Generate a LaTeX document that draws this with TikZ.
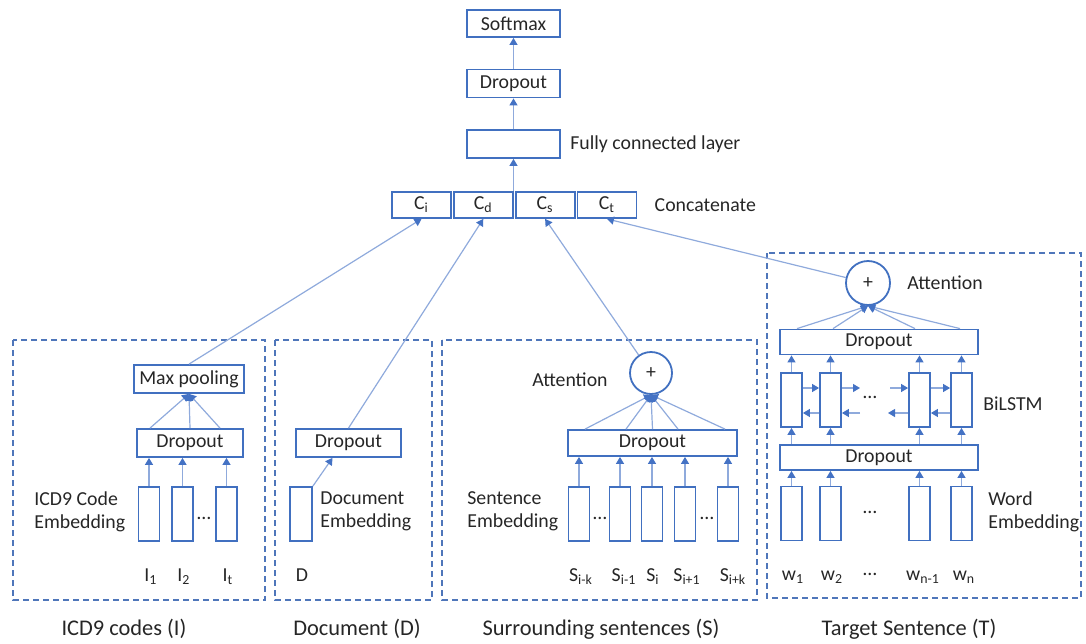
\documentclass[tikz,border=0pt]{standalone}
\usepackage{fontspec}
\setmainfont{Carlito}
\usepackage{xcolor}
\usepackage{tikz}
\usetikzlibrary{arrows.meta,positioning}
\definecolor{boxblue}{HTML}{4170C0}
\definecolor{lineblue}{HTML}{8FAADC}
\definecolor{tipblue}{HTML}{4472C4}
\definecolor{groupblue}{HTML}{4F76BA}
\definecolor{inkgray}{HTML}{262626}

\begin{document}
\begin{tikzpicture}[
    x=0.5pt, y=-0.5pt,
    font=\fontsize{9.9}{11.5}\selectfont,
    text=inkgray,
    layer/.style={draw=boxblue, line width=0.9pt, inner sep=0pt, minimum height=14pt},
    toplayer/.style={layer, minimum width=46.5pt},
    part/.style={layer, minimum width=29.5pt, minimum height=13pt},
    vec/.style={draw=boxblue, line width=0.9pt, inner sep=0pt, minimum width=10.5pt, minimum height=27pt},
    attn/.style={circle, draw=boxblue, line width=0.9pt, inner sep=0pt, minimum size=21pt},
    group/.style={draw=groupblue, line width=0.9pt, dash pattern=on 3pt off 2pt},
    link/.style={draw=lineblue, line width=0.6pt, -{Triangle[length=3.5pt, width=4pt, color=tipblue]}},
    note/.style={align=left, inner sep=0pt},
    caption/.style={font=\fontsize{11.2}{13}\selectfont, inner sep=0pt}
]
\useasboundingbox (0,0) rectangle (1086,643);
% output stack
\node[toplayer, minimum height=13.5pt] (softmax) at (513.5,23.5) {Softmax};
\node[toplayer] (drop0) at (513.5,83.5) {Dropout};
\node[toplayer] (fc) at (513.5,144) {};
\node[note, anchor=west] (fclbl) at (570,144) {Fully connected layer};
\node[part] (ci) at (421.5,205) {C\textsubscript{i}};
\node[part, right=0.5pt of ci] (cd) {C\textsubscript{d}};
\node[part, right=0.5pt of cd] (cs) {C\textsubscript{s}};
\node[part, right=0.5pt of cs] (ct) {C\textsubscript{t}};
\node[note, right=8.5pt of ct] (catlbl) {Concatenate};
\draw[link] (fc.south |- cd.north) -- (fc.south);
\draw[link] (fc.north) -- (drop0.south);
\draw[link] (drop0.north) -- (softmax.south);
% ICD9 codes
\draw[group] (13,340) rectangle (265,600);
\node[layer, minimum width=55pt] (pool) at (189,379) {Max pooling};
\node[layer, minimum width=53pt] (dropI) at (190,443) {Dropout};
\node[vec] (ia) at (149,514) {};
\node[vec] (ib) at (182.5,514) {};
\node[vec] (ic) at (226.5,514) {};
\node (idots) at (204,518) {\dots};
\node[note, anchor=west] (ilbl) at (34,511.5) {ICD9 Code\\Embedding};
\node (ianame) at (151,577) {I\textsubscript{1}};
\node (ibname) at (184,577) {I\textsubscript{2}};
\node (icname) at (228,577) {I\textsubscript{t}};
\node[caption] (icap) at (124,629) {ICD9 codes (I)};
\draw[link] (ia.north) -- (ia.north |- dropI.south);
\draw[link] (ib.north) -- (ib.north |- dropI.south);
\draw[link] (ic.north) -- (ic.north |- dropI.south);
\draw[link] ([xshift=-20pt]dropI.north) -- (pool.south);
\draw[link] (dropI.north) -- (pool.south);
\draw[link] ([xshift=15pt]dropI.north) -- (pool.south);
\draw[link] (pool.north) -- (ci.south);
% document
\draw[group] (275,340) rectangle (432,600);
\node[layer, minimum width=52.5pt] (dropD) at (348.5,443) {Dropout};
\node[vec, minimum width=11pt] (da) at (301,514) {};
\node[note, anchor=west] (dlbl) at (320,511.5) {Document\\Embedding};
\node (daname) at (302,575) {D};
\node[caption] (dcap) at (357,629) {Document (D)};
\draw[link] (da.north east) -- ([xshift=-8pt]dropD.south);
\draw[link] (dropD.north) -- (cd.south);
% surrounding sentences
\draw[group] (442,340) rectangle (757,600);
\node[attn] (attS) at (651,373) {+};
\node[note, anchor=east] (attSlbl) at (608,380) {Attention};
\node[layer, minimum width=84.5pt, minimum height=13pt] (dropS) at (652.5,443) {Dropout};
\node[vec] (sa) at (579,514) {};
\node[vec] (sb) at (620,514) {};
\node[vec] (sc) at (652,514) {};
\node[vec] (sd) at (685,514) {};
\node[vec] (se) at (728,514) {};
\node (sdotsa) at (600,518) {\dots};
\node (sdotsb) at (707,518) {\dots};
\node[note, anchor=west] (slbl) at (467,511.5) {Sentence\\Embedding};
\node (saname) at (581,577) {S\textsubscript{i-k}};
\node (sbname) at (624,577) {S\textsubscript{i-1}};
\node (scname) at (653,577) {S\textsubscript{i}};
\node (sdname) at (687,577) {S\textsubscript{i+1}};
\node (sename) at (733,577) {S\textsubscript{i+k}};
\node[caption] (scap) at (601,629) {Surrounding sentences (S)};
\draw[link] (sa.north) -- (sa.north |- dropS.south);
\draw[link] (sb.north) -- (sb.north |- dropS.south);
\draw[link] (sc.north) -- (sc.north |- dropS.south);
\draw[link] (sd.north) -- (sd.north |- dropS.south);
\draw[link] (se.north) -- (se.north |- dropS.south);
\draw[link] ([xshift=-33.75pt]dropS.north) -- (attS.south);
\draw[link] ([xshift=-13.25pt]dropS.north) -- (attS.south);
\draw[link] (dropS.north) -- (attS.south);
\draw[link] ([xshift=12.75pt]dropS.north) -- (attS.south);
\draw[link] ([xshift=36.25pt]dropS.north) -- (attS.south);
\draw[link] (attS) -- (cs.south);
% target sentence
\draw[group] (767,253) rectangle (1081,598);
\node[attn, minimum size=22pt] (attT) at (868,283) {+};
\node[note, anchor=west] (attTlbl) at (907,283) {Attention};
\node[layer, minimum width=99pt, minimum height=12.5pt] (dropT2) at (879,342) {Dropout};
\node[vec] (la) at (791.5,400) {};
\node[vec] (lb) at (830.5,400) {};
\node[vec] (lc) at (919.5,400) {};
\node[vec] (ld) at (961.5,400) {};
\node (ldots) at (870,397) {\dots};
\node[note, anchor=west] (llbl) at (983,404) {BiLSTM};
\node[layer, minimum width=99pt, minimum height=12.5pt] (dropT1) at (879,457.5) {Dropout};
\node[vec] (wa) at (791.5,513.5) {};
\node[vec] (wb) at (830.5,513.5) {};
\node[vec] (wc) at (919.5,513.5) {};
\node[vec] (wd) at (961.5,513.5) {};
\node (wdots) at (870,512) {\dots};
\node[note, anchor=west] (wlbl) at (988,511.5) {Word\\Embedding};
\node (waname) at (793,577) {w\textsubscript{1}};
\node (wbname) at (832,577) {w\textsubscript{2}};
\node (wnamedots) at (870,574) {\dots};
\node (wcname) at (923,577) {w\textsubscript{n-1}};
\node (wdname) at (964,577) {w\textsubscript{n}};
\node[caption] (tcap) at (909,629) {Target Sentence (T)};
\coordinate (fwdgap) at (860,388);
\coordinate (fwdin) at (890,388);
\coordinate (bwdgap) at (860,413);
\coordinate (bwdout) at (888,413);
\draw[link] (wa.north) -- (wa.north |- dropT1.south);
\draw[link] (wb.north) -- (wb.north |- dropT1.south);
\draw[link] (wc.north) -- (wc.north |- dropT1.south);
\draw[link] (wd.north) -- (wd.north |- dropT1.south);
\draw[link] (la.south |- dropT1.north) -- (la.south);
\draw[link] (lb.south |- dropT1.north) -- (lb.south);
\draw[link] (lc.south |- dropT1.north) -- (lc.south);
\draw[link] (ld.south |- dropT1.north) -- (ld.south);
\draw[link] (la.north) -- (la.north |- dropT2.south);
\draw[link] (lb.north) -- (lb.north |- dropT2.south);
\draw[link] (lc.north) -- (lc.north |- dropT2.south);
\draw[link] (ld.north) -- (ld.north |- dropT2.south);
\draw[link] ([yshift=6pt]la.east) -- ([yshift=6pt]lb.west);
\draw[link] ([yshift=6pt]lb.east) -- (fwdgap);
\draw[link] (fwdin) -- ([yshift=6pt]lc.west);
\draw[link] ([yshift=6pt]lc.east) -- ([yshift=6pt]ld.west);
\draw[link] ([yshift=-6.5pt]lb.west) -- ([yshift=-6.5pt]la.east);
\draw[link] (bwdgap) -- ([yshift=-6.5pt]lb.east);
\draw[link] ([yshift=-6.5pt]lc.west) -- (bwdout);
\draw[link] ([yshift=-6.5pt]ld.west) -- ([yshift=-6.5pt]lc.east);
\draw[link] ([xshift=-41pt]dropT2.north) -- (attT.south);
\draw[link] ([xshift=-23pt]dropT2.north) -- (attT.south);
\draw[link] ([xshift=18pt]dropT2.north) -- (attT.south);
\draw[link] ([xshift=40.5pt]dropT2.north) -- (attT.south);
\draw[link] (attT) -- (ct.south);
\end{tikzpicture}
\end{document}
